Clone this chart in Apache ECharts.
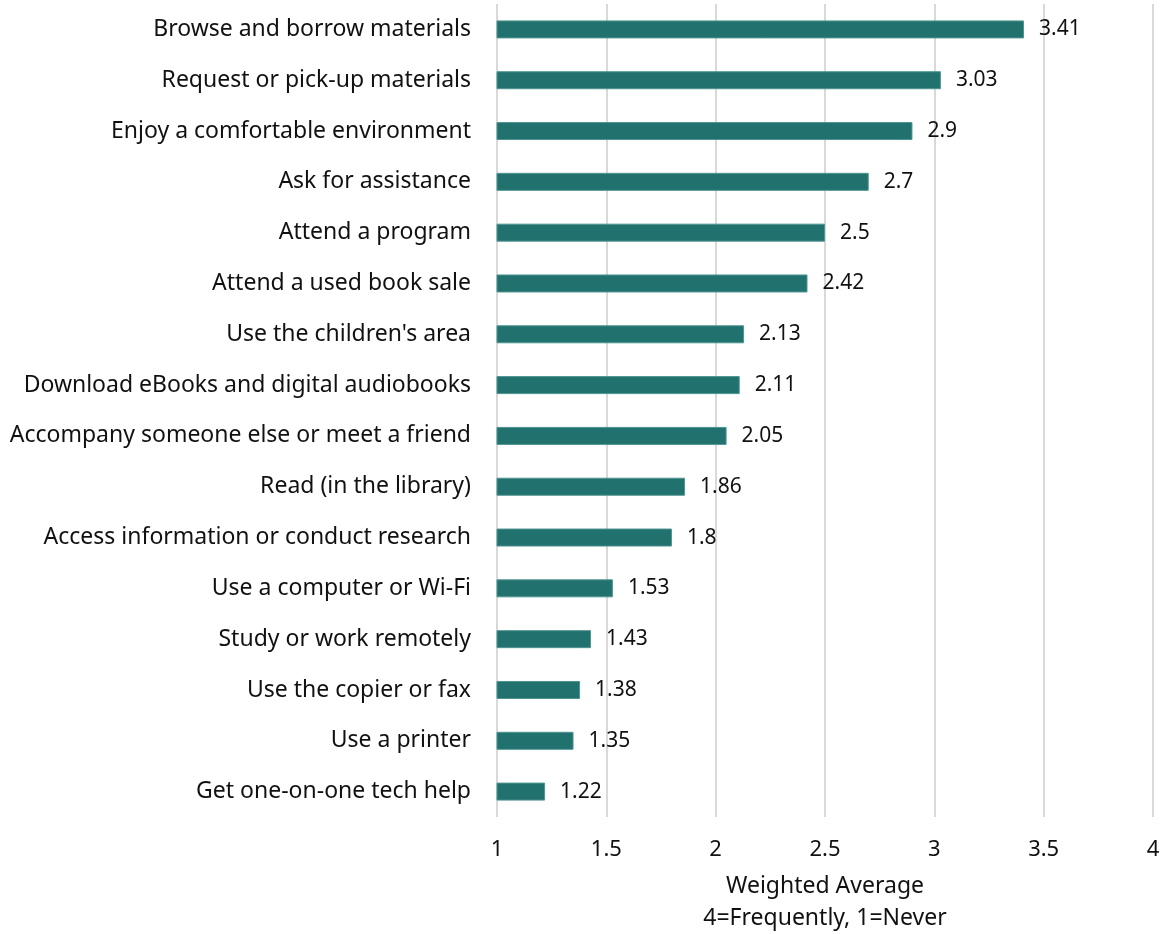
<!DOCTYPE html>
<html>
<head>
<meta charset="utf-8">
<script src="https://cdn.jsdelivr.net/npm/echarts@6/dist/echarts.min.js"></script>
<style>
  html, body { margin: 0; padding: 0; background: #ffffff; }
  #chart { width: 1162px; height: 934px; }
</style>
</head>
<body>
<div id="chart"></div>
<script>
// Library uses, ranked by weighted average (4 = Frequently, 1 = Never)
const categories = [
  "Browse and borrow materials",
  "Request or pick-up materials",
  "Enjoy a comfortable environment",
  "Ask for assistance",
  "Attend a program",
  "Attend a used book sale",
  "Use the children's area",
  "Download eBooks and digital audiobooks",
  "Accompany someone else or meet a friend",
  "Read (in the library)",
  "Access information or conduct research",
  "Use a computer or Wi-Fi",
  "Study or work remotely",
  "Use the copier or fax",
  "Use a printer",
  "Get one-on-one tech help"
];
const values = [3.41, 3.03, 2.9, 2.7, 2.5, 2.42, 2.13, 2.11, 2.05, 1.86, 1.8, 1.53, 1.43, 1.38, 1.35, 1.22];
const axisName = "Weighted Average\n4=Frequently, 1=Never";

const FONT = "Noto Sans";
const chart = echarts.init(document.getElementById("chart"), null, { renderer: "canvas" });
chart.setOption({
  animation: false,
  textStyle: { fontFamily: FONT },
  grid: { left: 497, right: 9, top: 4, bottom: 117, containLabel: false, outerBoundsMode: "none" },
  xAxis: {
    type: "value",
    min: 1,
    max: 4,
    interval: 0.5,
    axisLine: { show: false },
    axisTick: { show: false },
    splitLine: { show: true, lineStyle: { color: "#d9d9d9", width: 2 } },
    axisLabel: { color: "#111", fontSize: 22, fontFamily: FONT, margin: 22 },
    name: axisName,
    nameLocation: "middle",
    nameGap: 53,
    nameTextStyle: { color: "#111", fontSize: 23, fontFamily: FONT, lineHeight: 32 }
  },
  yAxis: {
    type: "category",
    data: categories,
    inverse: true,
    axisLine: { show: false },
    axisTick: { show: false },
    axisLabel: { color: "#111", fontSize: 23, fontFamily: FONT, margin: 26 }
  },
  series: [{
    type: "bar",
    data: values,
    barWidth: 18,
    itemStyle: { color: "#21716f", borderColor: "#4f9592", borderWidth: 1 },
    label: {
      show: true,
      position: "right",
      distance: 15,
      color: "#111",
      fontSize: 21,
      fontFamily: FONT
    }
  }]
});
</script>
</body>
</html>
